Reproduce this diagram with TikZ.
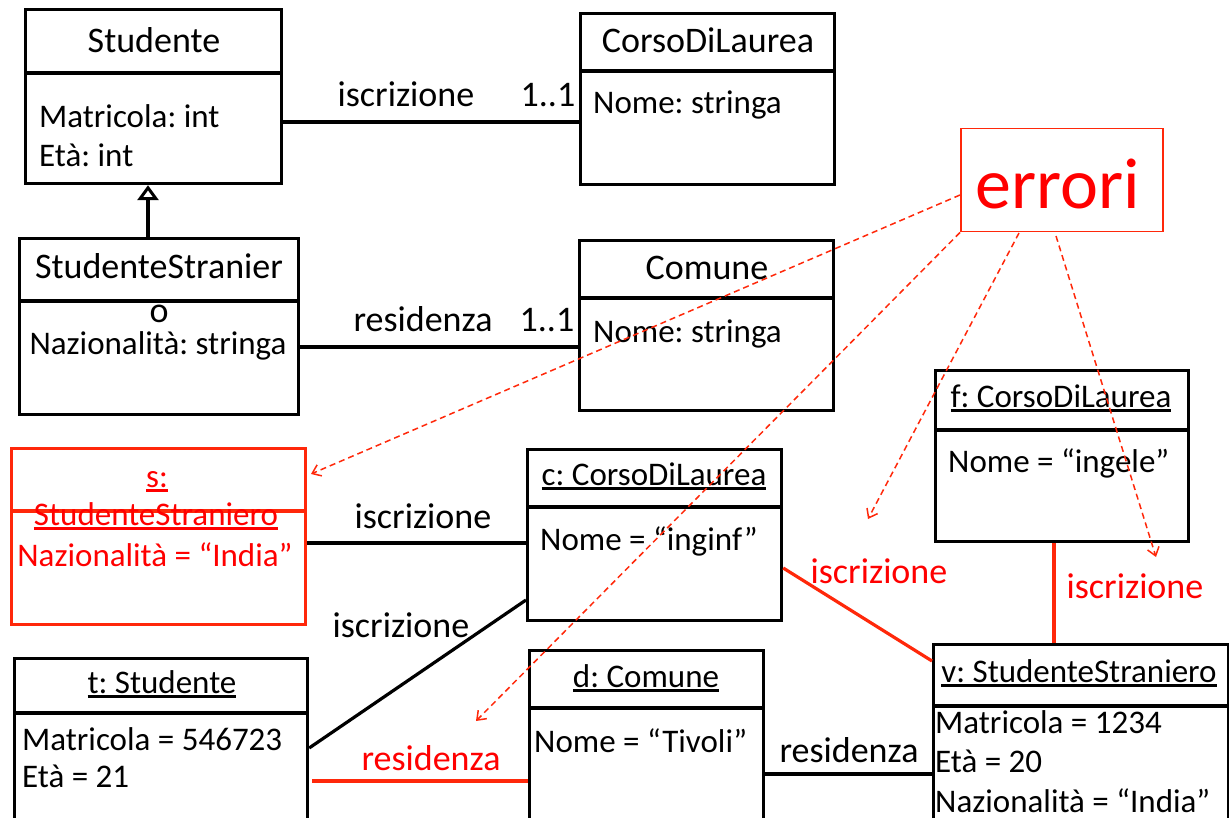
\documentclass[tikz,border=0pt]{standalone}
\usepackage{fontspec}
\setmainfont{Carlito}
\usetikzlibrary{arrows.meta,calc}
\frenchspacing
\definecolor{errred}{RGB}{255,40,10}
\definecolor{txtred}{RGB}{255,0,0}
\newcommand\myul[1]{\setbox0\hbox{#1}\rlap{\rule[-4.5pt]{\wd0}{2.2pt}}\box0}
\tikzset{
  box/.style={draw=black, line width=3.2pt, anchor=north west, inner sep=0pt},
  redbox/.style={draw=errred, line width=3.2pt, anchor=north west, inner sep=0pt},
  ctitle/.style={font=\fontsize{36}{40}\selectfont, inner sep=0pt, anchor=base},
  otitle/.style={font=\fontsize{33}{38}\selectfont, inner sep=0pt, anchor=base},
  attr/.style={font=\fontsize{33}{38}\selectfont, inner sep=0pt, anchor=base west},
  cattr/.style={font=\fontsize{33}{38}\selectfont, inner sep=0pt, anchor=base},
  lbl/.style={font=\fontsize{36}{40}\selectfont, inner sep=0pt, anchor=base},
  divider/.style={line width=3.2pt},
  assoc/.style={line width=3.2pt},
  redassoc/.style={line width=3.2pt, draw=errred},
  errarrow/.style={draw=errred, line width=1.5pt, dash pattern=on 6pt off 4pt,
    -{Straight Barb[length=8pt,width=12pt,line width=1.5pt]}},
}
\begin{document}
\frenchspacing
\begin{tikzpicture}[x=1pt,y=-1pt]
\useasboundingbox (0,0) rectangle (1229,818);
\clip (0,0) rectangle (1229,818);

% ---------- class diagram ----------
\node[box, minimum width=256pt, minimum height=174pt] (stud) at (24,8) {};
\draw[divider] (stud.west |- 0,73) -- (stud.east |- 0,73);
\node[ctitle] (studT) at (154,53) {Studente};
\node[attr] (studA1) at (39,128) {Matricola: int};
\node[attr] (studA2) at (39,167) {Età: int};

\node[box, minimum width=254pt, minimum height=171pt] (cdl) at (579,12) {};
\draw[divider] (cdl.west |- 0,71) -- (cdl.east |- 0,71);
\node[ctitle] (cdlT) at (708,53) {CorsoDiLaurea};
\node[attr] (cdlA1) at (593,114) {Nome: stringa};

\node[box, minimum width=279pt, minimum height=176pt] (sst) at (18,237) {};
\draw[divider] (sst.west |- 0,301) -- (sst.east |- 0,301);
\node[ctitle] (sstT) at (159,279) {StudenteStranier};
\node[ctitle] (sstT2) at (159,323) {o};
\node[cattr] (sstA1) at (158,355) {Nazionalità: stringa};

\node[box, minimum width=254pt, minimum height=170pt] (com) at (578,239) {};
\draw[divider] (com.west |- 0,298) -- (com.east |- 0,298);
\node[ctitle] (comT) at (707,280) {Comune};
\node[attr] (comA1) at (593,342) {Nome: stringa};

\draw[line width=3.2pt, -{Triangle[open, length=15pt, width=21pt, line width=3pt]}]
  (sst.north -| 148,0) -- (stud.south -| 148,0);

\draw[assoc] (stud.east |- 0,122) -- (cdl.west |- 0,122);
\node[lbl] (l1) at (406,107) {iscrizione};
\node[lbl] (m1) at (548,107) {1..1};
\draw[assoc] (sst.east |- 0,347) -- (com.west |- 0,347);
\node[lbl] (l2) at (423,332) {residenza};
\node[lbl] (m2) at (547,332) {1..1};

% ---------- object diagram ----------
\node[redbox, minimum width=294pt, minimum height=176pt] (sobj) at (10,447) {};
\draw[divider, draw=errred] (sobj.west |- 0,511) -- (sobj.east |- 0,511);
\node[otitle, text=txtred] (sT1) at (157,487) {\myul{s:}};
\node[otitle, text=txtred] (sT2) at (156,525) {\myul{StudenteStraniero}};
\node[cattr, text=txtred] (sA1) at (155,566) {Nazionalità = “India”};

\node[box, minimum width=254pt, minimum height=171pt] (cobj) at (526,448) {};
\draw[divider] (cobj.west |- 0,507) -- (cobj.east |- 0,507);
\node[otitle] (cT) at (654,485) {\myul{c: CorsoDiLaurea}};
\node[attr] (cA1) at (540,550) {Nome = “inginf”};

\node[box, minimum width=293pt, minimum height=200pt] (tobj) at (13,657) {};
\draw[divider] (tobj.west |- 0,713) -- (tobj.east |- 0,713);
\node[otitle] (tT) at (162,693) {\myul{t: Studente}};
\node[attr] (tA1) at (22,750) {Matricola = 546723};
\node[attr] (tA2) at (22,787) {Età = 21};

\node[box, minimum width=234pt, minimum height=200pt] (dobj) at (528,649) {};
\draw[divider] (dobj.west |- 0,708) -- (dobj.east |- 0,708);
\node[otitle] (dT) at (646,687) {\myul{d: Comune}};
\node[attr] (dA1) at (534,752) {Nome = “Tivoli”};

\node[box, minimum width=253pt, minimum height=171pt] (fobj) at (934,369) {};
\draw[divider] (fobj.west |- 0,430) -- (fobj.east |- 0,430);
\node[otitle] (fT) at (1061,407) {\myul{f: CorsoDiLaurea}};
\node[attr] (fA1) at (948,472) {Nome = “ingele”};

\node[box, minimum width=295pt, minimum height=200pt] (vobj) at (932,643) {};
\draw[divider] (vobj.west |- 0,706) -- (vobj.east |- 0,706);
\node[otitle] (vT) at (1079,682) {\myul{v: StudenteStraniero}};
\node[attr] (vA1) at (935,733) {Matricola = 1234};
\node[attr] (vA2) at (935,772) {Età = 20};
\node[attr] (vA3) at (935,812) {Nazionalità = “India”};

% links
\draw[assoc] (sobj.east |- 0,543) -- (cobj.west |- 0,543);
\node[lbl] (k1) at (423,528) {iscrizione};
\draw[assoc] (tobj.east |- 0,748) -- (cobj.west |- 0,600);
\node[lbl] (k2) at (401,637) {iscrizione};
\draw[redassoc] (cobj.east |- 0,568) -- (vobj.west |- 0,661);
\node[lbl, text=txtred] (k3) at (879,583) {iscrizione};
\draw[redassoc] (fobj.south -| 1054,0) -- (vobj.north -| 1054,0);
\node[lbl, text=txtred] (k4) at (1135,598) {iscrizione};
\draw[redassoc] (tobj.east |- 0,781) ++(3,0) -- (dobj.west |- 0,781);
\node[lbl, text=txtred] (k5) at (431,770) {residenza};
\draw[assoc] (dobj.east |- 0,774) -- (vobj.west |- 0,774);
\node[lbl] (k6) at (849,762) {residenza};

% ---------- errori ----------
\node[draw=errred, line width=1.5pt, minimum width=202pt, minimum height=103pt,
      anchor=north west, inner sep=0pt] (err) at (960,128) {};
\node[font=\fontsize{72}{80}\selectfont, text=txtred, inner sep=0pt, anchor=base]
      (errT) at (1058,209) {errori};
\coordinate (e1) at (err.west |- 0,195);
\coordinate (e3) at (1019,233);
\coordinate (e4) at (1056,236);
\coordinate (t1) at (311,474);
\coordinate (t2) at (476,721);
\coordinate (t3) at (868,519);
\coordinate (t4) at (1156,557);
\draw[errarrow] (e1) -- (t1);
\draw[errarrow] (err.south west) -- (t2);
\draw[errarrow] (e3) -- (t3);
\draw[errarrow] (e4) -- (t4);
\end{tikzpicture}
\end{document}
